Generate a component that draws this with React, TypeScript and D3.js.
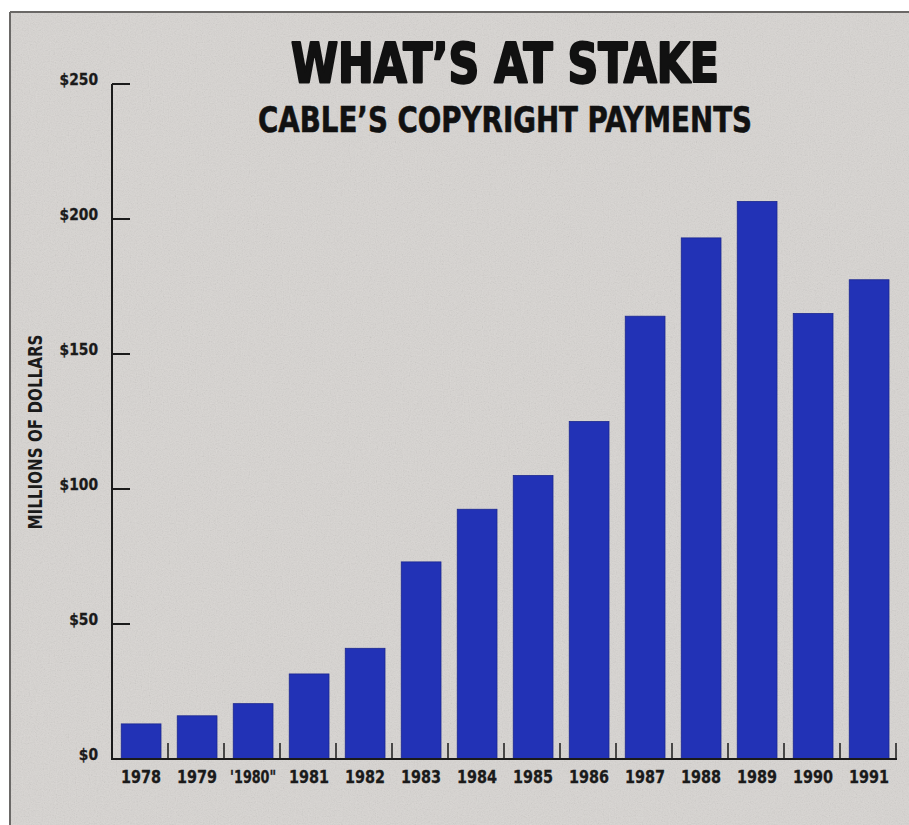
import React from "react";
import * as d3 from "d3";

const years = ["1978", "1979", "'1980\"", "1981", "1982", "1983", "1984", "1985", "1986", "1987", "1988", "1989", "1990", "1991"];
const payments = [13, 16, 20.5, 31.5, 41, 73, 92.5, 105, 125, 164, 193, 206.5, 165, 177.5];
const yTicks = [0, 50, 100, 150, 200, 250];
const yTickLabels = ["$0", "$50", "$100", "$150", "$200", "$250"];

const W = 909;
const H = 825;
const FONT = "'Liberation Sans Narrow', 'DejaVu Sans Condensed', 'Roboto Condensed', Arial, sans-serif";

export default function App() {
  const x = d3.scaleBand<number>().domain(d3.range(years.length)).range([112, 896]).padding(0);
  const y = d3.scaleLinear().domain([0, 250]).range([759, 84]);
  const step = x.step();

  return (
    <svg width={W} height={H} style={{ position: "absolute", left: 0, top: 0 }}>
      <defs>
        <filter id="noise" x="0" y="0" width="100%" height="100%">
          <feTurbulence type="fractalNoise" baseFrequency="0.85" numOctaves="2" seed="3" />
          <feColorMatrix type="saturate" values="0" />
        </filter>
      </defs>
      <rect x={0} y={0} width={W} height={H} fill="#ffffff" />
      <rect x={10} y={12} width={W - 10} height={H - 12} fill="#d8d5d2" />
      <rect x={10} y={12} width={W - 10} height={H - 12} filter="url(#noise)" opacity={0.24} />
      <line x1={10} x2={W} y1={12} y2={12} stroke="#6a6866" strokeWidth={2} />
      <line x1={10} x2={10} y1={12} y2={H} stroke="#6a6866" strokeWidth={2} />

      <text x={505} y={82} textAnchor="middle" fontFamily={FONT} fontWeight="bold" fontSize={55}
        textLength={428} lengthAdjust="spacingAndGlyphs" fill="#111" stroke="#111" strokeWidth={2.2}
        strokeLinejoin="round">WHAT’S AT STAKE</text>
      <text x={505} y={132} textAnchor="middle" fontFamily={FONT} fontWeight="bold" fontSize={36}
        textLength={494} lengthAdjust="spacingAndGlyphs" fill="#111" stroke="#111" strokeWidth={0.6}>CABLE’S COPYRIGHT PAYMENTS</text>

      <text transform="translate(42,432) rotate(-90)" textAnchor="middle" fontFamily={FONT} fontWeight="bold"
        fontSize={19} textLength={195} lengthAdjust="spacingAndGlyphs" fill="#1a1a1a">MILLIONS OF DOLLARS</text>

      {payments.map((v, i) => (
        <rect key={i} x={x(i)! + step * 0.165} width={step * 0.71} y={y(v)} height={y(0) - y(v)}
          fill="#2232b6" stroke="#1b278f" strokeWidth={0.8} />
      ))}

      {yTicks.map((t, i) => (
        <g key={t}>
          {t > 0 && <line x1={112} x2={130} y1={y(t)} y2={y(t)} stroke="#1a1a1a" strokeWidth={2} />}
          <text x={98} y={y(t) + 1} textAnchor="end" fontFamily={FONT} fontWeight="bold" fontSize={16}
            fill="#1a1a1a" stroke="#1a1a1a" strokeWidth={0.3}
            textLength={yTickLabels[i].length * 9.6} lengthAdjust="spacingAndGlyphs">{yTickLabels[i]}</text>
        </g>
      ))}

      {years.map((yr, i) => (
        <g key={yr}>
          <line x1={x(i)! + step} x2={x(i)! + step} y1={y(0)} y2={y(0) - 16} stroke="#1a1a1a" strokeWidth={1.5} />
          <text x={x(i)! + step * 0.52} y={783} textAnchor="middle" fontFamily={FONT} fontWeight="bold" fontSize={18}
            fill="#1a1a1a" stroke="#1a1a1a" strokeWidth={0.3}
            textLength={yr.length > 4 ? 46 : 40} lengthAdjust="spacingAndGlyphs">{yr}</text>
        </g>
      ))}

      <line x1={112} x2={112} y1={y(250)} y2={y(0)} stroke="#1a1a1a" strokeWidth={2} />
      <line x1={111} x2={897} y1={y(0)} y2={y(0)} stroke="#1a1a1a" strokeWidth={2} />
    </svg>
  );
}
